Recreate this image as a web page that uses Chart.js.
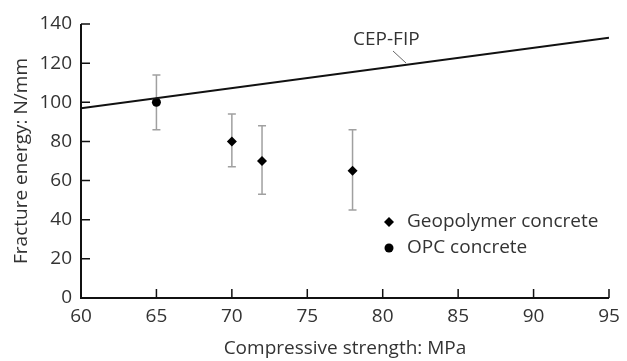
<!DOCTYPE html>
<html>
<head>
<meta charset="utf-8">
<script src="https://cdn.jsdelivr.net/npm/chart.js@4"></script>
<style>
  html, body { margin: 0; padding: 0; background: #fff; }
  #wrap { width: 627px; height: 361px; }
</style>
</head>
<body>
<div id="wrap"><canvas id="chart" width="627" height="361"></canvas></div>
<script>
// data
const geoStrength = [70, 72, 78];
const geoEnergy = [80, 70, 65];
const geoLow = [67, 53, 45];
const geoHigh = [94, 88, 86];

const opcStrength = [65];
const opcEnergy = [100];
const opcLow = [86];
const opcHigh = [114];

const cepStrength = [60, 95];
const cepEnergy = [97, 133];

const xTicks = [60, 65, 70, 75, 80, 85, 90, 95];
const yTicks = [0, 20, 40, 60, 80, 100, 120, 140];

const textColor = '#333';
const fontFamily = '"Open Sans", sans-serif';
const fontSize = 19;

const toPoints = (xs, ys) => xs.map((x, i) => ({ x: x, y: ys[i] }));

// error bars + inward ticks + legend + CEP-FIP label
const extras = {
    id: 'extras',
    beforeDatasetsDraw(chart) {
        const ctx = chart.ctx;
        const xs = chart.scales.x, ys = chart.scales.y;
        ctx.save();
        ctx.strokeStyle = '#a0a0a0';
        ctx.lineWidth = 1.5;
        const bars = [[geoStrength, geoLow, geoHigh], [opcStrength, opcLow, opcHigh]];
        bars.forEach(([sx, lo, hi]) => {
            sx.forEach((v, i) => {
                const px = xs.getPixelForValue(v);
                const y1 = ys.getPixelForValue(lo[i]);
                const y2 = ys.getPixelForValue(hi[i]);
                ctx.beginPath();
                ctx.moveTo(px, y1); ctx.lineTo(px, y2);
                ctx.moveTo(px - 4, y1); ctx.lineTo(px + 4, y1);
                ctx.moveTo(px - 4, y2); ctx.lineTo(px + 4, y2);
                ctx.stroke();
            });
        });
        ctx.restore();
    },
    afterDraw(chart) {
        const ctx = chart.ctx;
        const xs = chart.scales.x, ys = chart.scales.y;
        const a = chart.chartArea;
        ctx.save();
        // axes
        ctx.strokeStyle = '#111';
        ctx.lineWidth = 2;
        ctx.beginPath();
        ctx.moveTo(a.left, a.top);
        ctx.lineTo(a.left, a.bottom);
        ctx.lineTo(a.right, a.bottom);
        ctx.stroke();
        ctx.lineWidth = 1.5;
        ctx.beginPath();
        xTicks.forEach(v => {
            const px = xs.getPixelForValue(v);
            ctx.moveTo(px, a.bottom); ctx.lineTo(px, a.bottom - 9);
        });
        yTicks.forEach(v => {
            const py = ys.getPixelForValue(v);
            ctx.moveTo(a.left, py); ctx.lineTo(a.left + 9, py);
        });
        ctx.stroke();

        // CEP-FIP label with leader
        ctx.strokeStyle = '#666';
        ctx.lineWidth = 1;
        ctx.beginPath();
        ctx.moveTo(393, 51);
        ctx.lineTo(406, 63);
        ctx.stroke();
        ctx.fillStyle = textColor;
        ctx.font = fontSize + 'px ' + fontFamily;
        ctx.textBaseline = 'middle';
        ctx.textAlign = 'left';
        ctx.fillText('CEP-FIP', 353, 40);

        // legend
        const lx = 389;
        const rows = [['Geopolymer concrete', 'diamond', 222], ['OPC concrete', 'circle', 248]];
        rows.forEach(([label, shape, y]) => {
            ctx.fillStyle = '#000';
            ctx.beginPath();
            if (shape === 'diamond') {
                ctx.moveTo(lx, y - 5); ctx.lineTo(lx + 5, y);
                ctx.lineTo(lx, y + 5); ctx.lineTo(lx - 5, y);
                ctx.closePath();
            } else {
                ctx.arc(lx, y, 4.5, 0, Math.PI * 2);
            }
            ctx.fill();
            ctx.fillStyle = textColor;
            ctx.fillText(label, lx + 18, y);
        });
        ctx.restore();
    }
};

new Chart(document.getElementById('chart'), {
    type: 'scatter',
    data: {
        datasets: [
            {
                label: 'CEP-FIP',
                data: toPoints(cepStrength, cepEnergy),
                showLine: true,
                borderColor: '#111',
                borderWidth: 2,
                pointRadius: 0
            },
            {
                label: 'Geopolymer concrete',
                data: toPoints(geoStrength, geoEnergy),
                pointStyle: 'rectRot',
                pointRadius: 5,
                backgroundColor: '#000',
                borderColor: '#000',
                borderWidth: 0
            },
            {
                label: 'OPC concrete',
                data: toPoints(opcStrength, opcEnergy),
                pointStyle: 'circle',
                pointRadius: 4.5,
                backgroundColor: '#000',
                borderColor: '#000',
                borderWidth: 0
            }
        ]
    },
    options: {
        responsive: false,
        animation: false,
        layout: { padding: { top: 24, right: 18, left: 0, bottom: 0 } },
        plugins: {
            legend: { display: false },
            tooltip: { enabled: false }
        },
        scales: {
            x: {
                type: 'linear',
                min: 60,
                max: 95,
                afterFit: s => { s.height = 63; },
                afterBuildTicks: s => { s.ticks = xTicks.map(v => ({ value: v })); },
                grid: { display: false, drawTicks: false },
                border: { display: false },
                ticks: {
                    padding: 7,
                    color: textColor,
                    font: { family: fontFamily, size: fontSize }
                },
                title: {
                    display: true,
                    text: 'Compressive strength: MPa',
                    color: textColor,
                    font: { family: fontFamily, size: fontSize },
                    padding: { top: 4, bottom: 1 }
                }
            },
            y: {
                type: 'linear',
                min: 0,
                max: 140,
                afterFit: s => { s.width = 81; },
                afterBuildTicks: s => { s.ticks = yTicks.map(v => ({ value: v })); },
                grid: { display: false, drawTicks: false },
                border: { display: false },
                ticks: {
                    padding: 9,
                    color: textColor,
                    font: { family: fontFamily, size: fontSize }
                },
                title: {
                    display: true,
                    text: 'Fracture energy: N/mm',
                    color: textColor,
                    font: { family: fontFamily, size: fontSize },
                    padding: { top: 10, bottom: 2 }
                }
            }
        }
    },
    plugins: [extras]
});
</script>
</body>
</html>
